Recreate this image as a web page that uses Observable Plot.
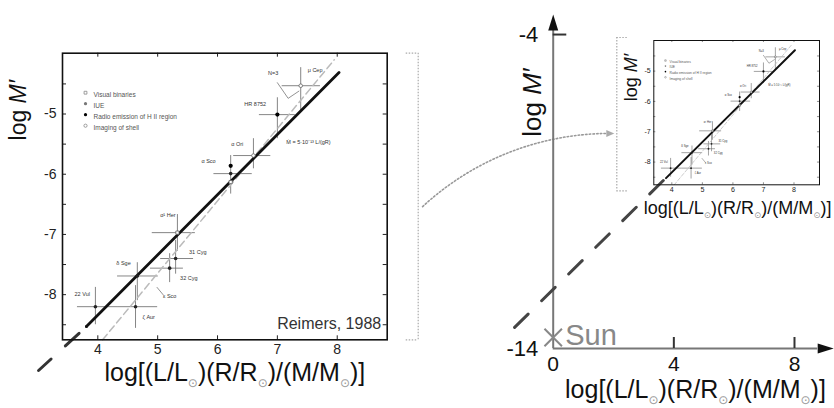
<!DOCTYPE html>
<html><head><meta charset="utf-8">
<script src="https://cdn.jsdelivr.net/npm/d3@7"></script>
<script src="https://cdn.jsdelivr.net/npm/@observablehq/plot@0.6"></script>
<style>
body{margin:0;background:#fff;}
#wrap{position:relative;width:834px;height:408px;overflow:hidden;}
#wrap svg{position:absolute;overflow:visible;}
</style></head><body><div id="wrap"></div>
<script>
// ---------------- DATA ----------------
const SUN = "⊙";
const xTitle = "log[(L/L⊙)(R/R⊙)/(M/M⊙)]";
const yTitle = "log M′";
const creditText = "Reimers, 1988";
const formulaText = "Ṁ = 5·10⁻¹³ L/(gR)";
const formulaX = 7.52, formulaY = -5.47;

// Reimers (1988) panel
const xDomainL = [3.41, 8.835];
const yDomainL = [-8.75, -3.99];
const xTicksL = [4, 5, 6, 7, 8];
const yTicksL = [-5, -6, -7, -8];
const yMinorL = [-4.5, -5, -5.5, -6, -6.5, -7, -7.5, -8, -8.5];

const ptName   = ["μ Cep","HR 8752","α Ori","α Sco","α Sco","α Sco","α Her","31 Cyg","32 Cyg","δ Sge","22 Vul","ζ Aur"];
const ptX      = [7.39, 7.00, 6.60, 6.22, 6.22, 6.22, 5.33, 5.30, 5.20, 4.66, 3.96, 4.63];
const ptY      = [-4.53, -5.01, -5.69, -5.86, -5.99, -6.13, -6.97, -7.40, -7.56, -7.69, -8.20, -8.20];
const ptMethod = ["shell","radio","shell","radio","IUE","binary","binary","IUE","IUE","IUE","IUE","IUE"];
const errX1    = [7.08, 6.70, 6.27, NaN, 5.94, NaN, 4.91, 5.05, 4.88, 4.33, 3.66, 4.33];
const errX2    = [7.72, 7.30, 6.89, NaN, 6.58, NaN, 5.63, 5.60, 5.43, 5.01, 4.33, 5.00];
const errY1    = [-4.23, -4.73, -5.41, NaN, -5.69, NaN, -6.67, -7.10, -7.32, -7.47, -7.88, -7.85];
const errY2    = [-4.94, -5.41, -5.91, NaN, -6.33, NaN, -7.28, -7.66, -7.80, -8.10, -8.50, -8.56];

const lblText = ["N=3","μ Cep","HR 8752","α Ori","α Sco","α¹ Her","31 Cyg","32 Cyg","δ Sge","ε Sco","22 Vul","ζ Aur"];
const lblX    = [6.93, 7.63, 6.63, 6.33, 5.85, 5.17, 5.67, 5.52, 4.43, 5.20, 3.74, 4.85];
const lblY    = [-4.33, -4.28, -4.83, -5.51, -5.78, -6.68, -7.30, -7.72, -7.48, -8.03, -8.00, -8.38];

const leaderVX = [7.00, 7.18, 7.36], leaderVY = [-4.48, -4.74, -4.62];
const leaderEX = [4.99, 5.09],       leaderEY = [-7.88, -8.00];

const fitX = [3.81, 8.03], fitY = [-8.53, -4.31];      // solid Reimers fit
const extX = [3.81, 3.01], extY = [-8.53, -9.26];      // dark dashed extension
const altX = [4.08, 7.95], altY = [-8.75, -4.10];      // light dashed relation

const legendLabels = ["Visual binaries", "IUE", "Radio emission of H II region", "Imaging of shell"];
const legendMethod = ["binary", "IUE", "radio", "shell"];

// extrapolation panel
const xDomainR = [0, 9.3];
const yDomainR = [-14, -3.4];
const xTicksR = [0, 4, 8];
const xTickMarksR = [4, 8];
const yTicksR = [-4, -14];
const sunX = 0, sunY = -13.65, sunLabel = "Sun";
const dashRX = [3.65, -1.65], dashRY = [-8.65, -13.68];
const arcX1 = -4.33, arcY1 = -9.48, arcX2 = 1.76, arcY2 = -7.15;

// ---------------- DRAWING ----------------
const FONT = "'Liberation Sans', Arial, Helvetica, sans-serif";
const wrap = document.getElementById("wrap");

function head(len, wid) {
  return {draw(ctx) { ctx.moveTo(0, -len); ctx.lineTo(wid / 2, 0); ctx.lineTo(-wid / 2, 0); ctx.closePath(); }};
}

function addSpan(t, str) {
  const sp = document.createElementNS("http://www.w3.org/2000/svg", "tspan");
  sp.textContent = str; t.appendChild(sp); return sp;
}
function enrich(svg) {
  svg.querySelectorAll("text").forEach(t => {
    const s = t.textContent;
    if (s === yTitle) {
      t.textContent = "";
      addSpan(t, "log ");
      addSpan(t, "M′").setAttribute("font-style", "italic");
    } else if (s.includes(SUN)) {
      t.textContent = "";
      const parts = s.split(SUN);
      parts.forEach((p, i) => {
        const a = addSpan(t, p);
        if (i > 0) a.setAttribute("dy", "-0.24em");
        if (i < parts.length - 1) {
          const sub = addSpan(t, SUN);
          sub.setAttribute("font-size", "48%");
          sub.setAttribute("dy", "0.5em");
          sub.setAttribute("fill", "#999");
          sub.setAttribute("font-family", "DejaVu Sans");
        }
      });
    }
  });
}

function place(svg, left, top) {
  svg.style.left = left + "px"; svg.style.top = top + "px";
  enrich(svg); wrap.appendChild(svg);
}

function reimersPanel(c) {
  const s = c.s;
  const fw = c.width - c.ml - c.mr, fh = c.height - c.mt - c.mb;
  const [x0, x1] = xDomainL, [y0, y1] = yDomainL;
  const kx = fw / (x1 - x0), ky = fh / (y1 - y0);
  const pts = ptName.map((name, i) => ({name, x: ptX[i], y: ptY[i], m: ptMethod[i],
    ex1: errX1[i], ex2: errX2[i], ey1: errY1[i], ey2: errY2[i]}));
  const lbls = lblText.map((t, i) => ({t, x: lblX[i], y: lblY[i]}));
  const pair = (xs, ys) => xs.map((x, i) => [x, ys[i]]);
  const thin = Math.max(0.6, 0.8 * s);
  const ink = "#222";
  const b = c.bracket;
  let bracketMarks;
  if (b.side === "right") {
    bracketMarks = [
      Plot.ruleX([x1], {dx: b.off, stroke: "#aaa", strokeWidth: 1.2, strokeDasharray: "1.5,1.5"}),
      Plot.ruleY([y0, y1], {x1: x1 + (b.off - b.stub) / kx, x2: x1 + b.off / kx, stroke: "#aaa", strokeWidth: 1.2, strokeDasharray: "1.5,1.5"})
    ];
  } else {
    const yt = y1 - b.top / ky, yb = y0 - b.bottom / ky;
    bracketMarks = [
      Plot.ruleX([x0], {dx: -b.off, y1: yt, y2: yb, stroke: "#aaa", strokeWidth: 1.2, strokeDasharray: "1.5,1.5"}),
      Plot.ruleY([yt, yb], {x1: x0 - b.off / kx, x2: x0 - (b.off - b.stub) / kx, stroke: "#aaa", strokeWidth: 1.2, strokeDasharray: "1.5,1.5"})
    ];
  }
  const legendMarks = legendLabels.map((lab, i) => {
    const m = legendMethod[i];
    const dy = (39.5 + 11 * i) * s;
    return [
      Plot.dot([lab], {frameAnchor: "top-left", dx: 23 * s, dy, r: 1.6 * s,
        symbol: m === "binary" ? "square" : "circle",
        fill: m === "radio" ? "#000" : (m === "IUE" ? "#777" : "white"),
        stroke: m === "radio" || m === "IUE" ? "none" : "#888", strokeWidth: thin}),
      Plot.text([lab], {frameAnchor: "top-left", dx: 31 * s, dy, text: d => d, textAnchor: "start",
        fontSize: 6.5 * s, fill: "#555"})
    ];
  }).flat();

  return Plot.plot({
    width: c.width, height: c.height,
    marginLeft: c.ml, marginRight: c.mr, marginTop: c.mt, marginBottom: c.mb,
    x: {domain: xDomainL, axis: null}, y: {domain: yDomainL, axis: null},
    style: {background: "transparent", overflow: "visible", fontFamily: FONT},
    marks: [
      ...bracketMarks,
      Plot.tickX(xTicksL, {x: d => d, insetTop: fh - 4 * s, stroke: ink, strokeWidth: s}),
      Plot.tickX(xTicksL, {x: d => d, insetBottom: fh - 4 * s, stroke: ink, strokeWidth: s}),
      Plot.tickY(yMinorL, {y: d => d, insetRight: fw - 4 * s, stroke: ink, strokeWidth: s}),
      Plot.tickY(yMinorL, {y: d => d, insetLeft: fw - 4 * s, stroke: ink, strokeWidth: s}),
      Plot.axisX({ticks: xTicksL, tickSize: 0, tickPadding: 4 * s, fontSize: 14 * s, tickFormat: d => String(d), fill: ink, label: null}),
      Plot.axisY({ticks: yTicksL, tickSize: 0, tickPadding: 6 * s, fontSize: 14 * s, tickFormat: d => String(d), fill: ink, label: null}),
      // error bars
      Plot.ruleY(pts, {y: "y", x1: "ex1", x2: "ex2", stroke: "#666", strokeWidth: thin}),
      Plot.ruleX(pts, {x: "x", y1: "ey1", y2: "ey2", stroke: "#666", strokeWidth: thin}),
      // relations
      Plot.line(pair(altX, altY), {stroke: "#bbb", strokeWidth: 1.5 * s, strokeDasharray: `${7 * s},${4 * s}`}),
      c.ext ? Plot.line(pair(extX, extY), {stroke: "#333", strokeWidth: 3, strokeDasharray: "0,10,18.6,19.4,18.4,100"}) : null,
      Plot.line(pair(fitX, fitY), {stroke: "#111", strokeWidth: c.fitW}),
      // points
      Plot.dot(pts.filter(d => d.m === "radio"), {x: "x", y: "y", r: 2.1 * s, fill: "#000"}),
      Plot.dot(pts.filter(d => d.m === "IUE"), {x: "x", y: "y", r: 1.8 * s, fill: "#222"}),
      Plot.dot(pts.filter(d => d.m === "binary"), {x: "x", y: "y", r: 1.8 * s, symbol: "square", stroke: "#666", fill: "white", strokeWidth: thin}),
      Plot.dot(pts.filter(d => d.m === "shell"), {x: "x", y: "y", r: 1.8 * s, stroke: "#666", fill: "white", strokeWidth: thin}),
      // labels
      Plot.line(pair(leaderVX, leaderVY), {stroke: "#777", strokeWidth: thin}),
      Plot.line(pair(leaderEX, leaderEY), {stroke: "#777", strokeWidth: thin}),
      Plot.text(lbls, {x: "x", y: "y", text: "t", fontSize: 5.5 * s, fill: "#333"}),
      Plot.text([formulaText], {x: formulaX, y: formulaY, text: d => d, fontSize: 5.5 * s, fill: "#333"}),
      ...legendMarks,
      Plot.frame({stroke: "#111", strokeWidth: c.frameW}),
      c.credit ? Plot.text([creditText], {frameAnchor: "bottom-right", dx: -6, dy: -16, text: d => d,
        textAnchor: "end", lineAnchor: "middle", fontSize: 16, fill: "#333"}) : null,
      // titles
      Plot.text([xTitle], {frameAnchor: "bottom", dx: c.xtDx, dy: c.xtDy, text: d => d,
        fontSize: c.xtSize, textAnchor: "middle", lineAnchor: "middle", fill: "#111"}),
      Plot.text([yTitle], {frameAnchor: "top-left", dx: c.ytDx, dy: c.ytDy, text: d => d, rotate: -90,
        fontSize: c.ytSize, textAnchor: "middle", lineAnchor: "middle", fill: "#111"})
    ]
  });
}

// ---- right: extrapolation axes ----
const right = Plot.plot({
  width: 834, height: 408,
  marginLeft: 552.7, marginRight: 0.8, marginTop: 15.2, marginBottom: 60,
  x: {domain: xDomainR, axis: null}, y: {domain: yDomainR, axis: null},
  style: {background: "transparent", overflow: "visible", fontFamily: FONT},
  marks: [
    Plot.arrow([0], {x1: arcX1, y1: arcY1, x2: arcX2, y2: arcY2, bend: 21, headLength: 0,
      stroke: "#999", strokeWidth: 1.6, strokeDasharray: "1.5,2.2"}),
    Plot.dot([0], {x: arcX2, y: arcY2, symbol: head(8, 7), rotate: 90, fill: "#aaa"}),
    Plot.ruleX([0], {y1: yDomainR[0], y2: -3.87, stroke: "#777", strokeWidth: 2}),
    Plot.ruleY([yDomainR[0]], {x1: 0, x2: 8.77, stroke: "#777", strokeWidth: 2}),
    Plot.dot([0], {x: 0, y: -3.87, symbol: head(16, 10), fill: "#111"}),
    Plot.dot([0], {x: 8.77, y: yDomainR[0], symbol: head(16, 10), rotate: 90, fill: "#111"}),
    Plot.ruleY([yTicksR[0]], {x1: 0, x2: 0.45, stroke: "#333", strokeWidth: 2}),
    Plot.ruleX(xTickMarksR, {y1: yDomainR[0], y2: -13.65, stroke: "#333", strokeWidth: 2}),
    Plot.text(yTicksR, {x: 0, y: d => d, text: d => String(d), textAnchor: "end", dx: -15, fontSize: 22, fill: "#111"}),
    Plot.text(xTicksR, {x: d => d, y: yDomainR[0], text: d => String(d), dy: 16, fontSize: 21, fill: "#111"}),
    Plot.line(dashRX.map((x, i) => [x, dashRY[i]]), {stroke: "#444", strokeWidth: 3, strokeDasharray: "19,19"}),
    Plot.dot([0], {x: sunX, y: sunY, symbol: "times", r: 8, stroke: "#888", strokeWidth: 2}),
    Plot.text([sunLabel], {x: sunX, y: sunY, dx: 12, dy: -2, text: d => d, textAnchor: "start", fontSize: 29, fill: "#888"}),
    Plot.text([xTitle], {frameAnchor: "bottom", dx: 2, dy: 41, text: d => d, fontSize: 25, textAnchor: "middle", lineAnchor: "middle", fill: "#111"}),
    Plot.text([yTitle], {frameAnchor: "top-left", dx: -21, dy: 86.8, text: d => d, rotate: -90, fontSize: 26, textAnchor: "middle", lineAnchor: "middle", fill: "#111"})
  ]
});
place(right, 0, 0);

// ---- left: Reimers 1988 ----
const left = reimersPanel({
  s: 1, width: 420, height: 408, ml: 62, mr: 33.3, mt: 52.7, mb: 68.7,
  ext: true, credit: true, fitW: 2.8, frameW: 1.6,
  bracket: {side: "right", off: 31, stub: 12},
  xtDx: 10, xtDy: 32.7, xtSize: 25, ytDx: -44, ytDy: 57, ytSize: 23
});
place(left, 0, 0);

// ---- inset: same panel, reduced ----
const inset = reimersPanel({
  s: 0.507, width: 234, height: 230, ml: 53.3, mr: 15, mt: 40, mb: 45.7,
  ext: false, credit: false, fitW: 2, frameW: 1,
  bracket: {side: "left", off: 37, stub: 11, top: -3, bottom: 6},
  xtDx: 1, xtDy: 23, xtSize: 18, ytDx: -23, ytDy: 37, ytSize: 18
});
place(inset, 600, 0);
</script>
</body></html>
